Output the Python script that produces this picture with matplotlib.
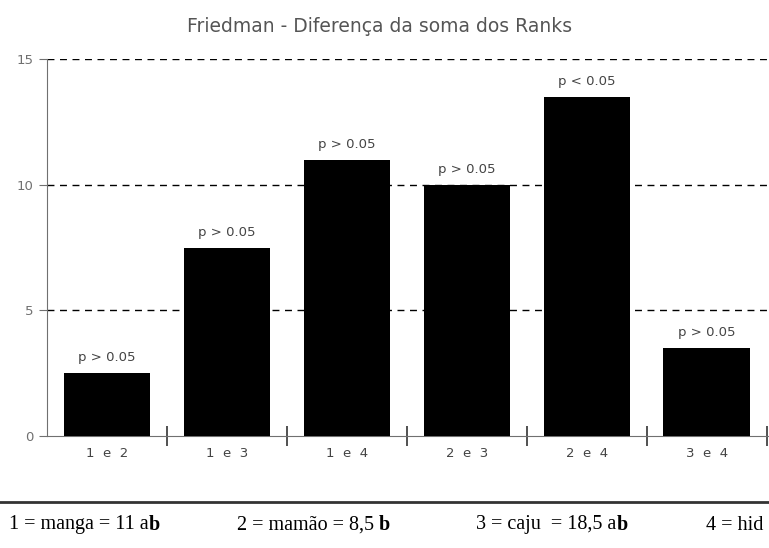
import matplotlib
matplotlib.use("Agg")
import matplotlib.pyplot as plt
import numpy as np

# comparações e diferença da soma dos ranks
pares = ["1 e 2", "1 e 3", "1 e 4", "2 e 3", "2 e 4", "3 e 4"]
dif_ranks = [2.5, 7.5, 11, 10, 13.5, 3.5]
p_labels = ["p > 0.05", "p > 0.05", "p > 0.05", "p > 0.05", "p < 0.05", "p > 0.05"]
y_ticks = [0, 5, 10, 15]

# legenda de baixo: (texto, negrito?)
legenda = [
    [("1 = manga = 11 a", False), ("b", True)],
    [("2 = mamão = 8,5 ", False), ("b", True)],
    [("3 = caju  = 18,5 a", False), ("b", True)],
    [("4 = hid", False)],
]
legenda_x = [9, 237, 476, 706]

W, H = 769, 548
fig = plt.figure(figsize=(W / 100, H / 100), dpi=100)
ax = fig.add_axes([47 / W, 112 / H, 722 / W, 377 / H])

cinza = "#707070"
x = np.arange(len(pares)) + 0.5
ax.bar(x, dif_ranks, width=0.72, color="black", zorder=3)
for xi, v, lab in zip(x, dif_ranks, p_labels):
    ax.text(xi, v + 0.35, lab, ha="center", va="bottom", fontsize=9.5, color="#444444")

for yv in y_ticks[1:]:
    ax.axhline(yv, color="black", lw=1, ls=(0, (5, 4)), zorder=1)

ax.set_xlim(0, 6.02)
ax.set_ylim(0, 15)
ax.set_yticks(y_ticks)
ax.set_yticklabels([str(v) for v in y_ticks], fontsize=9.5, color=cinza)
ax.set_xticks(np.arange(1, 7))
ax.set_xticklabels([])
ax.tick_params(axis="x", direction="inout", length=14, width=1.2, color="#333333")
ax.tick_params(axis="y", direction="out", length=6, color=cinza, pad=4)
for xi, lab in zip(x, pares):
    ax.text(xi, -0.7, lab.replace(" ", "  "), ha="center", va="center", fontsize=9.5, color="#444444")

for s in ["top", "right"]:
    ax.spines[s].set_visible(False)
ax.spines["left"].set_color(cinza)
ax.spines["bottom"].set_color(cinza)

fig.text(380 / W, 1 - 26 / H, "Friedman - Diferença da soma dos Ranks",
         ha="center", va="center", fontsize=13.5, color="#555555")

# linha horizontal de baixo
fig.add_artist(plt.Line2D([0, 1], [1 - 502 / H, 1 - 502 / H], color="#333333", lw=2))

# legenda em Times, com partes em negrito
fig.canvas.draw()
r = fig.canvas.get_renderer()
for partes, x0 in zip(legenda, legenda_x):
    px = x0
    for txt, bold in partes:
        t = fig.text(px / W, 1 - 525 / H, txt, ha="left", va="center", fontsize=14.5,
                     family="Liberation Serif", fontweight="bold" if bold else "normal")
        px += t.get_window_extent(renderer=r).width

fig.savefig("out.png", dpi=100)
